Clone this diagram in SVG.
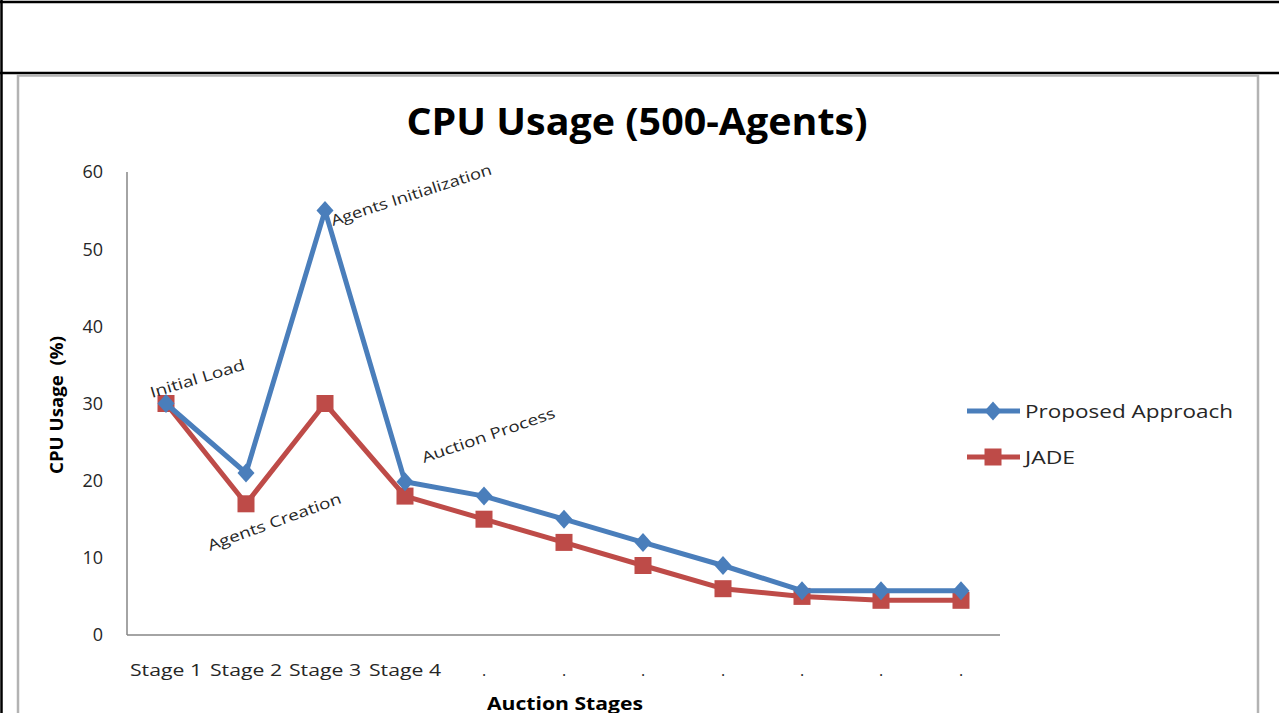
<svg xmlns="http://www.w3.org/2000/svg" width="1279" height="713" viewBox="0 0 1279 713">
<style>
.frame{stroke:#000;stroke-width:2.5;fill:none}
.cframe{stroke:#b3b3b3;stroke-width:2.5;fill:none}
.axis{stroke:#868686;stroke-width:1.5;fill:none}
.tick{font-family:"Open Sans","Liberation Sans",sans-serif;font-size:18px;fill:#262626}
.cat{font-family:"Open Sans","Liberation Sans",sans-serif;font-size:16px;fill:#262626}
.ann{font-family:"Open Sans","Liberation Sans",sans-serif;font-size:15px;fill:#262626}
.ttl{font-family:"Open Sans","Liberation Sans",sans-serif;font-weight:bold;fill:#000}
.leg{font-family:"Open Sans","Liberation Sans",sans-serif;font-size:19px;fill:#262626}
.blue{stroke:#4a7ebb;stroke-width:5;fill:none;stroke-linejoin:round}
.red{stroke:#be4b48;stroke-width:5;fill:none;stroke-linejoin:round}
.bm{fill:#4a7ebb}
.rm{fill:#be4b48}
</style>
<defs>
<path id="dia" d="M0,-9.5 L8.5,0 L0,9.5 L-8.5,0 Z"/>
<rect id="sq" x="-8.5" y="-8.5" width="17" height="17"/>
</defs>
<rect width="1279" height="713" fill="#fff"/>
<g id="table">
<line class="frame" x1="0" y1="2" x2="1279" y2="2"/>
<line class="frame" x1="1.5" y1="0" x2="1.5" y2="713"/>
<line class="frame" x1="0" y1="73" x2="1279" y2="73"/>
</g>
<g id="chart-frame">
<polyline class="cframe" points="18,713 18,75.5 1258,75.5 1258,713"/>
</g>
<g id="title">
<text class="ttl" x="637" y="135" font-size="37" text-anchor="middle" textLength="461" lengthAdjust="spacingAndGlyphs">CPU Usage (500-Agents)</text>
</g>
<g id="axes">
<line class="axis" x1="127" y1="172" x2="127" y2="635"/>
<line class="axis" x1="127" y1="635" x2="1000" y2="635"/>
<g text-anchor="end">
<text class="tick" x="103" y="178">60</text>
<text class="tick" x="103" y="256">50</text>
<text class="tick" x="103" y="333">40</text>
<text class="tick" x="103" y="410">30</text>
<text class="tick" x="103" y="487">20</text>
<text class="tick" x="103" y="564">10</text>
<text class="tick" x="103" y="641">0</text>
</g>
<g text-anchor="middle">
<text class="cat" x="166" y="676" textLength="72" lengthAdjust="spacingAndGlyphs">Stage 1</text>
<text class="cat" x="246" y="676" textLength="72" lengthAdjust="spacingAndGlyphs">Stage 2</text>
<text class="cat" x="325" y="676" textLength="72" lengthAdjust="spacingAndGlyphs">Stage 3</text>
<text class="cat" x="405" y="676" textLength="72" lengthAdjust="spacingAndGlyphs">Stage 4</text>
<text class="cat" x="484" y="676">.</text>
<text class="cat" x="564" y="676">.</text>
<text class="cat" x="643" y="676">.</text>
<text class="cat" x="723" y="676">.</text>
<text class="cat" x="802" y="676">.</text>
<text class="cat" x="881" y="676">.</text>
<text class="cat" x="961" y="676">.</text>
</g>
<text class="ttl" x="565" y="710" font-size="18" text-anchor="middle" textLength="156" lengthAdjust="spacingAndGlyphs">Auction Stages</text>
<text class="ttl" transform="translate(63,405) rotate(-90)" font-size="17" text-anchor="middle" textLength="138" lengthAdjust="spacingAndGlyphs" xml:space="preserve">CPU Usage  (%)</text>
</g>
<g id="series-jade">
<polyline class="red" points="166,403.5 246,503.8 325,403.5 405,496.1 484,519.2 564,542.4 643,565.5 723,588.7 802,596.4 881,600.3 961,600.3"/>
<g class="rm">
<use href="#sq" x="166" y="403.5"/><use href="#sq" x="246" y="503.8"/><use href="#sq" x="325" y="403.5"/><use href="#sq" x="405" y="496.1"/><use href="#sq" x="484" y="519.2"/><use href="#sq" x="564" y="542.4"/><use href="#sq" x="643" y="565.5"/><use href="#sq" x="723" y="588.7"/><use href="#sq" x="802" y="596.4"/><use href="#sq" x="881" y="600.3"/><use href="#sq" x="961" y="600.3"/>
</g>
</g>
<g id="series-proposed">
<polyline class="blue" points="166,403.5 246,473 325,210.6 405,481.8 484,496.1 564,519.2 643,542.4 723,565.5 802,590.7 881,590.7 961,590.7"/>
<g class="bm">
<use href="#dia" x="166" y="403.5"/><use href="#dia" x="246" y="473"/><use href="#dia" x="325" y="210.6"/><use href="#dia" x="405" y="481.8"/><use href="#dia" x="484" y="496.1"/><use href="#dia" x="564" y="519.2"/><use href="#dia" x="643" y="542.4"/><use href="#dia" x="723" y="565.5"/><use href="#dia" x="802" y="590.7"/><use href="#dia" x="881" y="590.7"/><use href="#dia" x="961" y="590.7"/>
</g>
</g>
<g id="annotations">
<text class="ann" transform="translate(152,398) rotate(-17)" textLength="98" lengthAdjust="spacingAndGlyphs">Initial Load</text>
<text class="ann" transform="translate(333,226) rotate(-18)" textLength="168" lengthAdjust="spacingAndGlyphs">Agents Initialization</text>
<text class="ann" transform="translate(424,463) rotate(-19)" textLength="140" lengthAdjust="spacingAndGlyphs">Auction Process</text>
<text class="ann" transform="translate(210,551) rotate(-20)" textLength="141" lengthAdjust="spacingAndGlyphs">Agents Creation</text>
</g>
<g id="legend">
<line class="blue" x1="967" y1="411" x2="1020" y2="411"/>
<use href="#dia" class="bm" x="993" y="411"/>
<text class="leg" x="1025" y="418" textLength="208" lengthAdjust="spacingAndGlyphs">Proposed Approach</text>
<line class="red" x1="967" y1="457" x2="1020" y2="457"/>
<use href="#sq" class="rm" x="993" y="457"/>
<text class="leg" x="1025" y="464" textLength="50" lengthAdjust="spacingAndGlyphs">JADE</text>
</g>
</svg>
